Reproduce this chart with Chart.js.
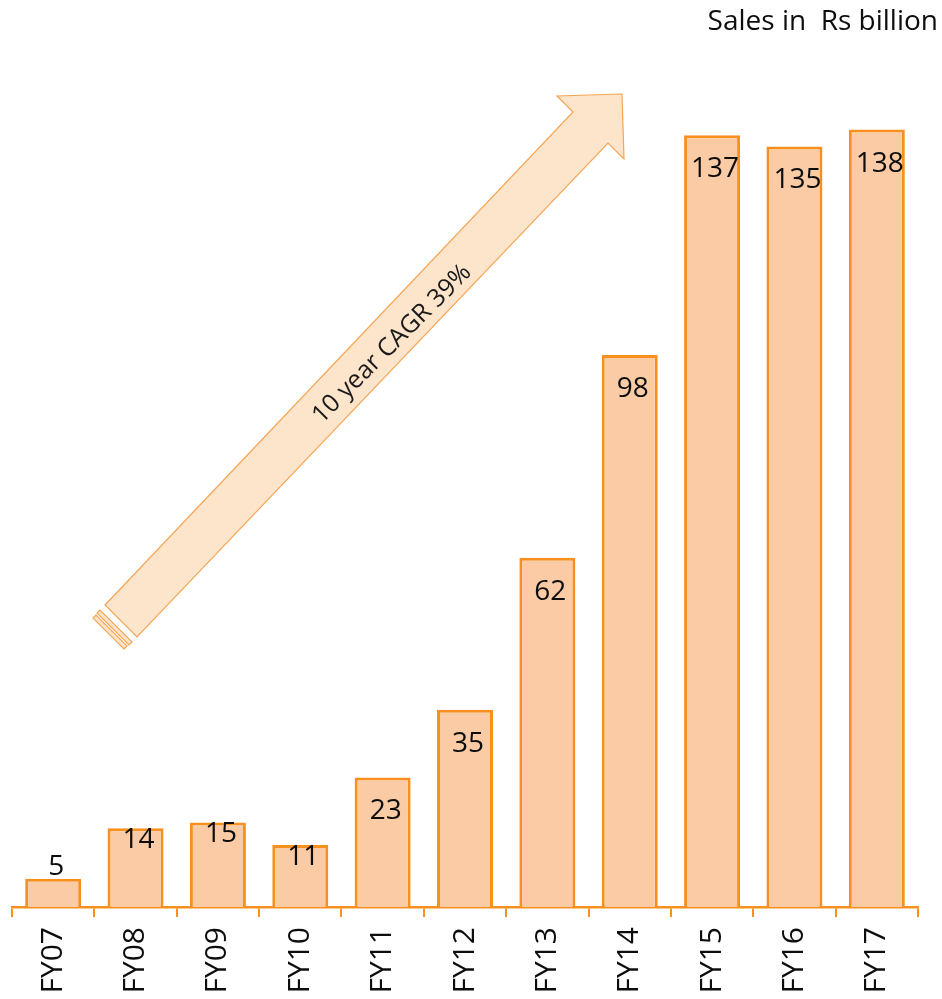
<!DOCTYPE html>
<html>
<head>
<meta charset="utf-8">
<script src="https://cdn.jsdelivr.net/npm/chart.js@4.4.1/dist/chart.umd.min.js"></script>
<style>
  html, body { margin: 0; padding: 0; background: #fff; }
  #wrap { width: 942px; height: 999px; position: relative; }
</style>
</head>
<body>
<div id="wrap"><canvas id="sales"></canvas></div>
<script>
// fiscal years and sales (Rs billion)
const categories = ["FY07", "FY08", "FY09", "FY10", "FY11", "FY12", "FY13", "FY14", "FY15", "FY16", "FY17"];
const sales = [5, 14, 15, 11, 23, 35, 62, 98, 137, 135, 138];
const unitLabel = "Sales in  Rs billion";
const cagrLabel = "10 year CAGR 39%";

const orange = "rgb(247, 144, 30)";
const peach = "rgb(250, 203, 165)";
const font = "'Open Sans', 'Noto Sans', sans-serif";

// value labels near the top of each bar
const valueLabels = {
  id: "valueLabels",
  afterDatasetsDraw(chart) {
    const ctx = chart.ctx;
    const meta = chart.getDatasetMeta(0);
    ctx.save();
    ctx.font = "28px " + font;
    ctx.fillStyle = "#0d0d0d";
    ctx.textAlign = "center";
    ctx.textBaseline = "middle";
    meta.data.forEach((bar, i) => {
      const h = bar.base - bar.y;
      let off = 34;
      if (h < 50) off = -12;
      else if (h < 120) off = 12;
      ctx.fillText(String(sales[i]), bar.x + 3, bar.y + off);
    });
    ctx.restore();
  },
};

// big growth arrow and the unit caption
const decorations = {
  id: "decorations",
  beforeDatasetsDraw(chart) {
    const ctx = chart.ctx;
    ctx.save();
    ctx.fillStyle = "rgb(253, 229, 204)";
    ctx.strokeStyle = "rgb(245, 165, 85)";
    ctx.lineWidth = 1.2;

    // shaft + head
    ctx.beginPath();
    ctx.moveTo(105, 605);
    ctx.lineTo(573, 112);
    ctx.lineTo(557, 96);
    ctx.lineTo(622, 94);
    ctx.lineTo(624, 159);
    ctx.lineTo(608, 143);
    ctx.lineTo(137, 637);
    ctx.closePath();
    ctx.fill();
    ctx.stroke();

    // striped tail
    [[100, 610, 132, 642], [96, 615, 127, 646]].forEach((s) => {
      ctx.beginPath();
      ctx.moveTo(s[0], s[1]);
      ctx.lineTo(s[0] - 3, s[1] + 3);
      ctx.lineTo(s[2] - 3, s[3] + 3);
      ctx.lineTo(s[2], s[3]);
      ctx.closePath();
      ctx.fill();
      ctx.stroke();
    });

    ctx.translate(392, 344);
    ctx.rotate(-Math.PI / 4);
    ctx.font = "25px " + font;
    ctx.fillStyle = "#1a1a1a";
    ctx.textAlign = "center";
    ctx.textBaseline = "middle";
    ctx.fillText(cagrLabel, 0, 0);
    ctx.restore();

    ctx.save();
    ctx.font = "28px " + font;
    ctx.fillStyle = "#0d0d0d";
    ctx.textAlign = "right";
    ctx.textBaseline = "middle";
    ctx.fillText(unitLabel, 938, 22);
    ctx.restore();
  },
};

new Chart(document.getElementById("sales"), {
  type: "bar",
  data: {
    labels: categories,
    datasets: [
      {
        data: sales,
        backgroundColor: peach,
        borderColor: orange,
        borderWidth: 3,
        borderSkipped: "bottom",
        barPercentage: 0.68,
        categoryPercentage: 1,
      },
    ],
  },
  options: {
    responsive: true,
    maintainAspectRatio: false,
    animation: false,
    devicePixelRatio: 1,
    layout: { padding: { top: 62, left: 12, right: 24, bottom: 0 } },
    plugins: { legend: { display: false }, tooltip: { enabled: false } },
    scales: {
      x: {
        offset: true,
        border: { display: true, color: orange, width: 2.5 },
        grid: {
          display: true,
          offset: true,
          drawOnChartArea: false,
          drawTicks: true,
          tickLength: 10,
          color: orange,
          lineWidth: 2,
        },
        ticks: {
          minRotation: 90,
          maxRotation: 90,
          padding: 10,
          color: "#0d0d0d",
          font: { size: 30, family: font },
        },
        afterFit(scale) {
          scale.height = 92;
        },
      },
      y: {
        display: false,
        min: 0,
        max: 150,
      },
    },
  },
  plugins: [decorations, valueLabels],
});
</script>
</body>
</html>
